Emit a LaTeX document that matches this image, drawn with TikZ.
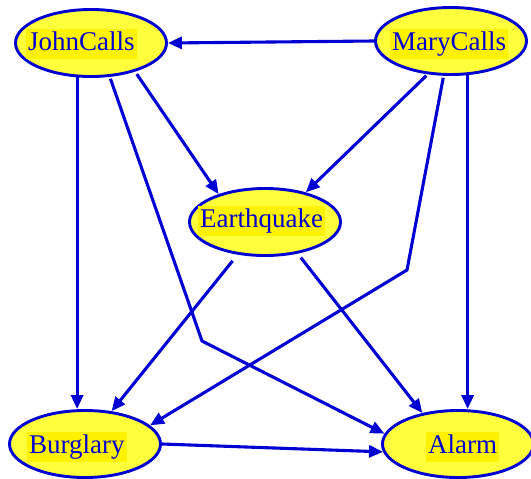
\documentclass[tikz,border=0pt]{standalone}
\usepackage{fontspec}
\setmainfont{Liberation Serif}
\usetikzlibrary{arrows.meta,shapes.geometric}
\definecolor{netblue}{RGB}{0,0,210}
\definecolor{nodefill}{RGB}{255,255,60}
\begin{document}
\begin{tikzpicture}[x=1pt,y=-1pt,
  bn/.style={ellipse, draw=netblue, line width=2.9pt, fill=nodefill,
    minimum width=151pt, minimum height=67pt, inner sep=0pt},
  lbl/.style={anchor=base west, fill=yellow, text=netblue,
    font=\fontsize{27}{30}\selectfont, inner xsep=2pt, inner ysep=2pt,
    text height=19pt, text depth=7pt},
  bnedge/.style={draw=netblue, line width=3.1pt,
    -{Triangle[length=14pt,width=12pt]}}]
\useasboundingbox (0,0) rectangle (531,479);
\clip (0,0) rectangle (531,479);
% ellipses
\node[bn] (john)  at (91,43)   {};
\node[bn] (mary)  at (451,41)  {};
\node[bn] (quake) at (265,222) {};
\node[bn] (burg)  at (85,444)  {};
\node[bn] (alarm) at (458,444) {};
% labels
\node[lbl] (johnT)  at (26,50)   {JohnCalls\hspace{9pt}};
\node[lbl] (maryT)  at (390,50)  {MaryCalls\hspace{2pt}};
\node[lbl] (quakeT) at (198,227) {Earthquake\hspace{2pt}};
\node[lbl] (burgT)  at (27,453)  {Burglary\hspace{10pt}};
\node[lbl] (alarmT) at (426,453) {Alarm\hspace{10pt}};
% bend points
\coordinate (bendJ) at (202,341);
\coordinate (bendM) at (407,270);
% edges
\draw[bnedge] (mary.west) -- (john.east);
\draw[bnedge] (john.248) -- (john.248 |- burg.north);
\draw[bnedge, shorten <=3pt] (john.327) -- (quake.149);
\draw[bnedge, shorten <=2pt] (john.299) -- (bendJ) -- (alarm.172);
\draw[bnedge, shorten <=2pt] (mary.235) -- (quake.36);
\draw[bnedge, shorten <=2pt] (mary.258) -- (bendM) -- (burg.16);
\draw[bnedge] (mary.296) -- (mary.296 |- alarm.north);
\draw[bnedge, shorten <=8pt] (quake.230) -- (burg.51);
\draw[bnedge, shorten <=5pt] (quake.316) -- (alarm.139);
\draw[bnedge] (burg.east) -- (alarm.186);
\end{tikzpicture}
\end{document}
